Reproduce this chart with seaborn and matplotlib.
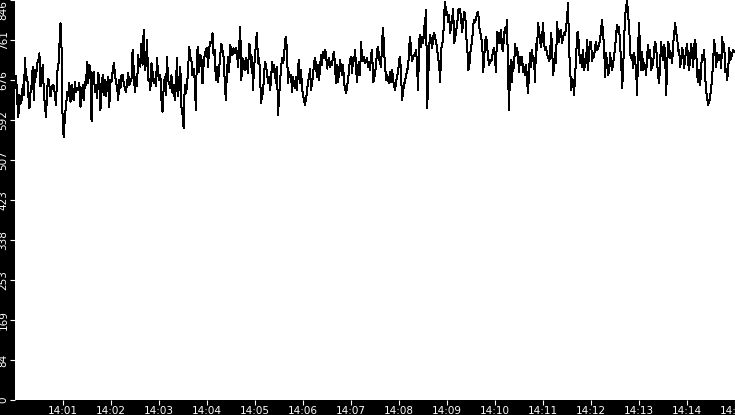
import numpy as np
import pandas as pd
import matplotlib
matplotlib.use("Agg")
import matplotlib.pyplot as plt
import matplotlib.dates as mdates
import seaborn as sns

# values, in three stretches (14:00-14:05, 14:05-14:10, 14:10-14:15)
seg1_values = [
    659, 685, 634, 599, 645, 627, 634, 666, 645, 723, 677, 684, 645, 617, 652, 666,
    705, 634, 698, 684, 712, 716, 733, 663, 677, 709, 652, 620, 599, 659, 680, 666,
    642, 659, 666, 663, 645, 624, 694, 701, 747, 797, 740, 575, 557, 603, 620, 652,
    642, 670, 631, 666, 642, 634, 673, 652, 659, 656, 670, 620, 638, 666, 634, 673,
    666, 716, 670, 709, 701, 589, 687, 694, 652, 666, 638, 691, 680, 613, 652, 687,
    645, 677, 642, 666, 684, 620, 677, 673, 694, 712, 694, 670, 663, 634, 677, 659,
    687, 687, 670, 659, 652, 670, 691, 666, 673, 680, 740, 701, 652, 684, 663, 730,
    709, 705, 754, 709, 783, 698, 709, 761, 677, 680, 656, 712, 694, 670, 680, 663,
    723, 687, 677, 687, 634, 610, 659, 684, 645, 726, 677, 670, 659, 687, 649, 666,
    634, 663, 723, 642, 673, 705, 620, 603, 575, 666, 649, 663, 698, 747, 726, 719,
    687, 701, 677, 613, 737, 747, 694, 730, 726, 670, 709, 730, 740, 744, 705, 744,
    758, 754, 776, 730, 740, 677, 705, 673, 698, 730, 754, 740, 726, 677, 634, 691,
    726, 694, 751, 740, 730, 744, 733, 744, 737, 705, 744, 790, 677, 723, 705, 698,
    723, 709, 691, 754, 747,
]
seg2_values = [
    705, 726, 656, 705, 723, 761, 776, 712, 723, 694, 627, 645, 649, 687, 716, 705,
    694, 670, 684, 656, 673, 716, 694, 709, 691, 670, 705, 603, 638, 673, 701, 723,
    712, 723, 761, 768, 733, 670, 694, 684, 687, 652, 684, 666, 659, 684, 656, 705,
    719, 670, 698, 659, 645, 634, 624, 638, 652, 677, 680, 701, 656, 670, 687, 712,
    723, 705, 684, 709, 677, 705, 730, 709, 737, 723, 740, 733, 701, 716, 723, 705,
    712, 709, 730, 737, 705, 670, 709, 673, 694, 719, 701, 687, 709, 670, 659, 649,
    663, 677, 701, 719, 726, 691, 723, 716, 740, 701, 673, 705, 716, 687, 758, 716,
    719, 726, 712, 719, 723, 705, 716, 698, 733, 740, 673, 677, 694, 709, 740, 747,
    723, 712, 705, 761, 786, 737, 705, 677, 687, 677, 670, 694, 673, 698, 677, 663,
    656, 673, 684, 694, 719, 726, 684, 634, 656, 666, 677, 684, 701, 701, 747, 768,
    737, 716, 726, 730, 733, 740, 701, 656, 761, 772, 747, 768, 754, 786, 800, 825,
    617, 670, 747, 772, 758, 744, 768, 776, 765, 758, 740, 723, 709, 673, 740, 754,
    761, 818, 842, 814, 821, 800, 814, 776, 790, 807, 828, 754, 765, 783, 793, 825,
    828, 825, 804, 779, 800, 821, 818, 768, 754, 698, 701, 733, 747, 761, 793, 804,
    800, 807, 818, 821, 790, 779, 765, 758, 694, 723, 761, 768, 747, 723, 709, 719,
    716, 726, 740, 744,
]
seg3_values = [
    723, 694, 779, 754, 776, 754, 783, 747, 737, 772, 786, 776, 804, 698, 613, 698,
    719, 673, 716, 701, 754, 730, 744, 730, 694, 726, 709, 726, 694, 705, 687, 709,
    677, 649, 694, 733, 705, 740, 716, 723, 673, 754, 740, 797, 783, 761, 747, 765,
    797, 754, 740, 747, 730, 726, 716, 726, 776, 751, 687, 705, 733, 712, 800, 768,
    758, 779, 783, 754, 768, 776, 772, 790, 807, 839, 740, 705, 656, 680, 673, 645,
    687, 719, 776, 779, 740, 712, 730, 705, 740, 698, 709, 716, 761, 698, 740, 758,
    758, 716, 733, 726, 747, 758, 740, 744, 754, 761, 783, 804, 772, 747, 684, 733,
    712, 687, 694, 733, 712, 698, 712, 726, 747, 772, 793, 779, 790, 747, 723, 659,
    698, 761, 811, 832, 846, 811, 797, 733, 723, 730, 701, 733, 716, 698, 645, 747,
    797, 730, 698, 737, 698, 712, 705, 687, 730, 751, 723, 740, 698, 705, 712, 740,
    758, 747, 712, 687, 670, 712, 758, 730, 719, 751, 733, 645, 705, 758, 747, 723,
    733, 712, 754, 772, 797, 776, 768, 737, 740, 705, 719, 744, 733, 701, 723, 740,
    754, 712, 698, 726, 754, 730, 705, 751, 761, 740, 687, 673, 698, 666, 705, 730,
    719, 740, 684, 652, 638, 624, 631, 642, 659, 684, 719, 761, 740, 705, 733, 723,
    719, 730, 701, 768, 737, 754, 694, 701, 677, 698, 744, 719, 723, 733, 740, 737,
]

seg1_span = ("2024-01-01 14:00:00", "2024-01-01 14:04:54")
seg2_span = ("2024-01-01 14:04:55", "2024-01-01 14:09:59")
seg3_span = ("2024-01-01 14:10:00", "2024-01-01 14:14:59")

x_limits = ("2024-01-01 14:00:00", "2024-01-01 14:15:00")
x_ticks = pd.date_range("2024-01-01 14:01:00", "2024-01-01 14:15:00", freq="1min")
y_tick_values = [0, 84.6, 169.2, 253.8, 338.4, 423, 507.6, 592.2, 676.8, 761.4, 846]
y_tick_labels = ["0", "84", "169", "253", "338", "423", "507", "592", "676", "761", "846"]

parts = []
for vals, (t0, t1) in [(seg1_values, seg1_span), (seg2_values, seg2_span), (seg3_values, seg3_span)]:
    parts.append(pd.DataFrame({"time": pd.date_range(t0, t1, periods=len(vals)), "value": vals}))
df = pd.concat(parts, ignore_index=True)

fig = plt.figure(figsize=(7.35, 4.15), dpi=100, facecolor="black")
ax = fig.add_axes([15 / 735, 15 / 415, 720 / 735, 400 / 415])
ax.set_facecolor("white")

sns.lineplot(data=df, x="time", y="value", ax=ax, color="black", linewidth=0.72, antialiased=False)

ax.set_xlim(pd.Timestamp(x_limits[0]), pd.Timestamp(x_limits[1]))
ax.set_ylim(0, 846)
ax.set_xticks(x_ticks)
ax.xaxis.set_major_formatter(mdates.DateFormatter("%H:%M"))
ax.set_yticks(y_tick_values)
ax.set_yticklabels(y_tick_labels, rotation=90, va="center")
ax.get_yticklabels()[-1].set_va("top")

for s in ax.spines.values():
    s.set_visible(False)
ax.tick_params(colors="white", length=3.6, width=0.8, labelsize=7.5, pad=1)
ax.set_xlabel("")
ax.set_ylabel("")

fig.savefig("out.png", dpi=100, facecolor="black")
